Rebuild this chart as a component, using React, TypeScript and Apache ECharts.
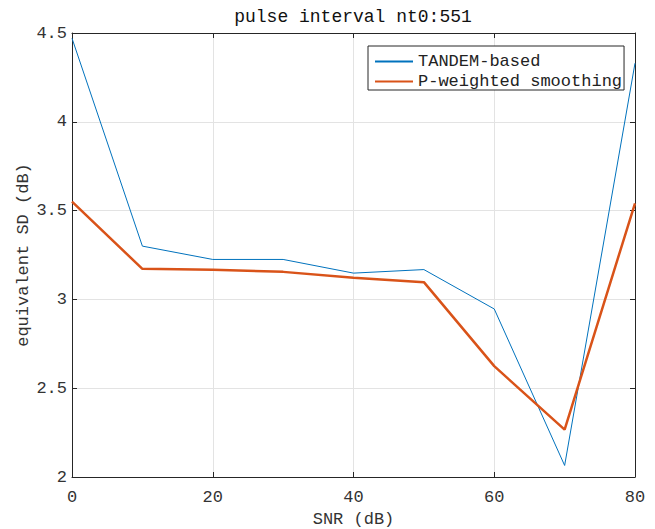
import React, { useEffect, useRef } from "react";
import * as echarts from "echarts";

const snr = [0, 10, 20, 30, 40, 50, 60, 70, 80];
const tandemBased = [4.47, 3.3, 3.225, 3.225, 3.148, 3.168, 2.946, 2.065, 4.33];
const pWeighted = [3.55, 3.172, 3.167, 3.155, 3.122, 3.097, 2.624, 2.267, 3.541];
const titleText = "pulse interval nt0:551";
const xName = "SNR (dB)";
const yName = "equivalent SD (dB)";
const seriesNames = ["TANDEM-based", "P-weighted smoothing"];

const FONT = "'Liberation Mono', 'DejaVu Sans Mono', monospace";
const TXT = "#333333";
const AX = "#262626";
const GRID = "#e3e3e3";

export default function App() {
  const ref = useRef<HTMLDivElement>(null);
  useEffect(() => {
    if (!ref.current) return;
    const chart = echarts.init(ref.current, null, { renderer: "svg" });
    const baseX = {
      type: "value",
      min: 0,
      max: 80,
      interval: 20,
      axisLine: { show: true, onZero: false, lineStyle: { color: AX, width: 1 } },
      axisTick: { show: true, inside: true, length: 5, lineStyle: { color: AX } },
    };
    const baseY = {
      type: "value",
      min: 2,
      max: 4.5,
      interval: 0.5,
      axisLine: { show: true, onZero: false, lineStyle: { color: AX, width: 1 } },
      axisTick: { show: true, inside: true, length: 5, lineStyle: { color: AX } },
    };
    chart.setOption({
      animation: false,
      backgroundColor: "#ffffff",
      textStyle: { fontFamily: FONT },
      title: {
        text: titleText,
        left: 353,
        textAlign: "center",
        top: 8,
        padding: 0,
        textStyle: { fontFamily: FONT, fontSize: 18, fontWeight: "normal", color: "#111" },
      },
      grid: { left: 72, right: 20, top: 33, bottom: 52, containLabel: false, outerBoundsMode: "none" },
      legend: {
        orient: "vertical",
        left: 368,
        top: 46,
        padding: [7, 2, 0, 6],
        borderColor: AX,
        borderWidth: 1,
        backgroundColor: "#fff",
        itemWidth: 38,
        itemHeight: 14,
        itemGap: 3,
        itemStyle: { opacity: 0 },
        textStyle: { fontFamily: FONT, fontSize: 17, color: "#222", lineHeight: 17 },
        data: seriesNames,
      },
      xAxis: [
        {
          ...baseX,
          position: "bottom",
          name: xName,
          nameLocation: "middle",
          nameGap: 34,
          nameMoveOverlap: false,
          nameTextStyle: { fontFamily: FONT, fontSize: 17, color: TXT },
          axisLabel: { show: true, margin: 12, fontFamily: FONT, fontSize: 17, color: TXT },
          splitLine: { show: true, lineStyle: { color: GRID, width: 1 } },
        },
        {
          ...baseX,
          position: "top",
          axisLabel: { show: false },
          splitLine: { show: false },
        },
      ],
      yAxis: [
        {
          ...baseY,
          position: "left",
          name: yName,
          nameLocation: "middle",
          nameGap: 40,
          nameMoveOverlap: false,
          nameTextStyle: { fontFamily: FONT, fontSize: 17, color: TXT },
          axisLabel: { show: true, margin: 5, fontFamily: FONT, fontSize: 17, color: TXT },
          splitLine: { show: true, lineStyle: { color: GRID, width: 1 } },
        },
        {
          ...baseY,
          position: "right",
          axisLabel: { show: false },
          splitLine: { show: false },
        },
      ],
      series: [
        {
          name: seriesNames[0],
          type: "line",
          xAxisIndex: 0,
          yAxisIndex: 0,
          symbol: "none",
          data: snr.map((x, i) => [x, tandemBased[i]]),
          lineStyle: { color: "#0072BD", width: 1 },
          itemStyle: { color: "#0072BD" },
        },
        {
          name: seriesNames[1],
          type: "line",
          xAxisIndex: 0,
          yAxisIndex: 0,
          symbol: "none",
          data: snr.map((x, i) => [x, pWeighted[i]]),
          lineStyle: { color: "#D95319", width: 2.5 },
          itemStyle: { color: "#D95319" },
        },
      ],
    });
    return () => chart.dispose();
  }, []);
  return <div ref={ref} style={{ width: 655, height: 529, position: "absolute", left: 0, top: 0 }} />;
}
